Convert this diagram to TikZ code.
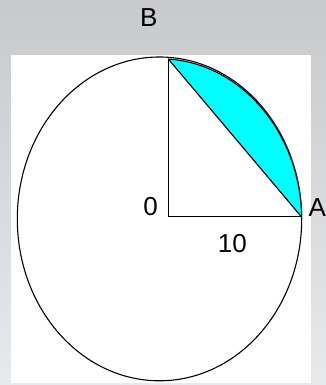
\documentclass[tikz,border=0pt]{standalone}
\usepackage{fontspec}
\setmainfont{Liberation Sans}
\definecolor{segcyan}{RGB}{0,255,255}
\begin{document}
\begin{tikzpicture}[x=1pt,y=1pt,
  lbl/.style={inner sep=0pt, font=\fontsize{26}{30}\selectfont},
  edge/.style={draw=black, line width=1.1pt}]
\useasboundingbox (0,0) rectangle (326,385);
\shade[top color={rgb,255:red,200;green,201;blue,203}, bottom color={rgb,255:red,232;green,233;blue,235}] (0,0) rectangle (326,385);
\fill[white] (11,2) rectangle (311,330);
% ellipse
\coordinate (C) at (159.5,166.1);
\draw[edge] (C) ellipse [x radius=142.2, y radius=161.9];
% points
\coordinate (O) at (168.3,168.5);
\coordinate (B) at (168.3,326);
\coordinate (A) at (301.2,168.5);
% cyan segment
\fill[segcyan] (B) arc[start angle=86.45, end angle=0.85, x radius=142.2, y radius=161.9] -- cycle;
\draw[edge] (B) arc[start angle=86.45, end angle=0.85, x radius=142.2, y radius=161.9];
\draw[edge] (O) -- (B);
\draw[edge] (O) -- (A);
\draw[edge] (B) -- (A);
% labels
\node[lbl] (lB) at (148.7,367.8) {B};
\node[lbl] (l0) at (150.7,178) {0};
\node[lbl] (lA) at (317.2,177.5) {A};
\node[lbl] (l10) at (232.3,141.3) {10};
\end{tikzpicture}
\end{document}
